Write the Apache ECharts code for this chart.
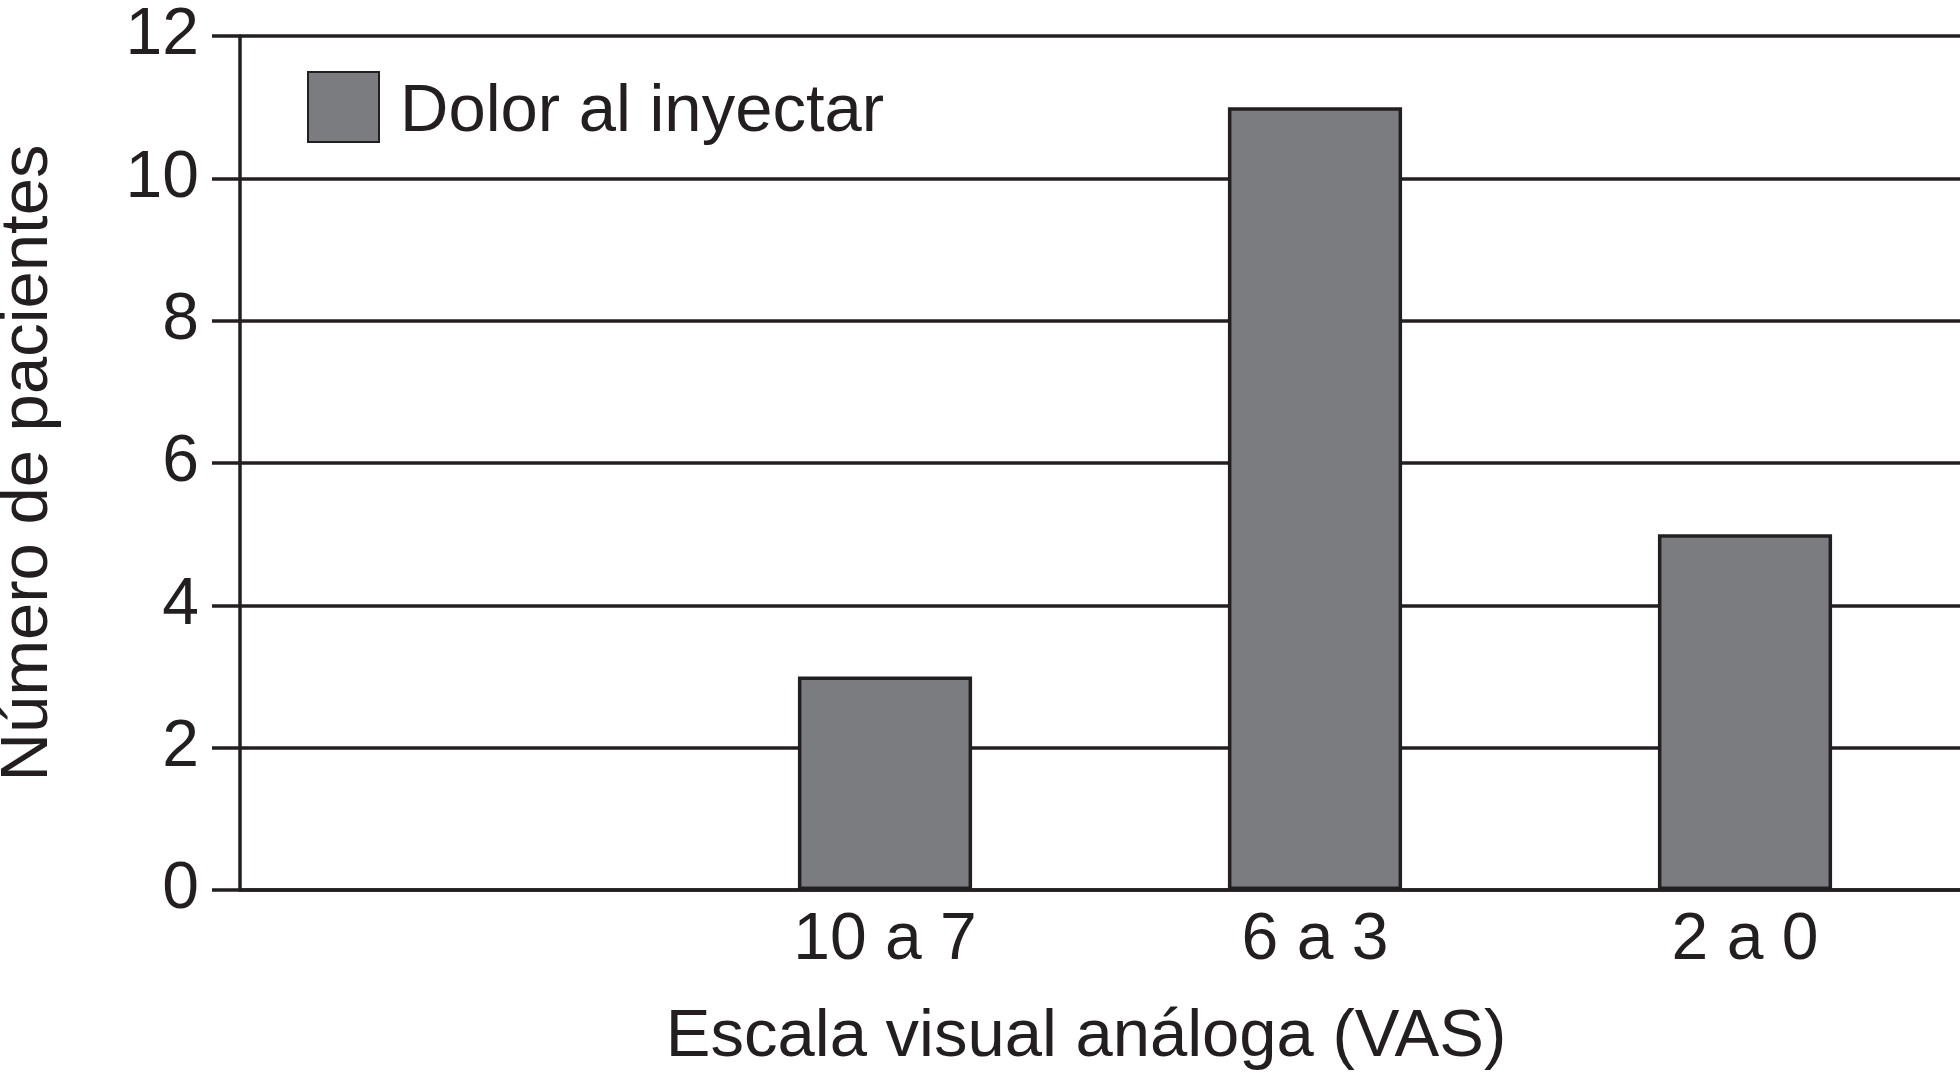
<!DOCTYPE html>
<html>
<head>
<meta charset="utf-8">
<script src="https://cdn.jsdelivr.net/npm/echarts@6/dist/echarts.min.js"></script>
<style>
html,body{margin:0;padding:0;background:#fff;}
#c{width:1960px;height:1080px;}
</style>
</head>
<body>
<div id="c"></div>
<script>
var categories = ['', '10 a 7', '6 a 3', '2 a 0'];
var seriesName = 'Dolor al inyectar';
var values = ['-', 3, 11, 5];
var yTicks = [0, 2, 4, 6, 8, 10, 12];
var xTitle = 'Escala visual análoga (VAS)';
var yTitle = 'Número de pacientes';

var ink = '#231f20';
var barFill = '#7a7c7f';
var font = '"Liberation Sans", Arial, Helvetica, sans-serif';
var fs = 66;
var fsTitle = 67;

var chart = echarts.init(document.getElementById('c'), null, {renderer: 'canvas'});
chart.setOption({
  backgroundColor: '#ffffff',
  animation: false,
  textStyle: {fontFamily: font, color: ink},
  legend: {
    show: true,
    left: 302, top: 66,
    icon: 'rect',
    itemWidth: 71, itemHeight: 70,
    itemGap: 10,
    formatter: function (name) { return '{t|' + name + '}'; },
    textStyle: {
      fontSize: fsTitle, color: ink, fontFamily: font,
      rich: {t: {fontSize: fsTitle, color: ink, fontFamily: font, padding: [12, 0, 0, 16]}}
    },
    data: [seriesName]
  },
  grid: {left: 240, right: 0, top: 36, bottom: 190, containLabel: false, outerBoundsMode: 'none'},
  xAxis: {
    type: 'category',
    data: categories,
    boundaryGap: true,
    axisLine: {show: true, lineStyle: {color: ink, width: 3.5}},
    axisTick: {show: false},
    axisLabel: {fontSize: fs, color: ink, fontFamily: font, margin: 18, interval: 0},
    splitLine: {show: false},
    name: xTitle,
    nameLocation: 'middle',
    nameGap: 114,
    nameMoveOverlap: false,
    nameTextStyle: {fontSize: fsTitle, color: ink, fontFamily: font, padding: [0, 28, 0, 0]}
  },
  yAxis: {
    type: 'value',
    min: yTicks[0], max: yTicks[yTicks.length - 1], interval: yTicks[1] - yTicks[0],
    axisLine: {show: true, lineStyle: {color: ink, width: 3.5}},
    axisTick: {show: true, length: 28, lineStyle: {color: ink, width: 3.5}},
    axisLabel: {fontSize: fs, color: ink, fontFamily: font, margin: 41},
    splitLine: {show: true, lineStyle: {color: ink, width: 3.5}},
    name: yTitle,
    nameLocation: 'middle',
    nameGap: 178,
    nameMoveOverlap: false,
    nameTextStyle: {fontSize: fsTitle, color: ink, fontFamily: font}
  },
  series: [{
    name: seriesName,
    type: 'bar',
    data: values,
    barWidth: '40.5%',
    itemStyle: {color: barFill, borderColor: ink, borderWidth: 3.5}
  }]
});
</script>
</body>
</html>
